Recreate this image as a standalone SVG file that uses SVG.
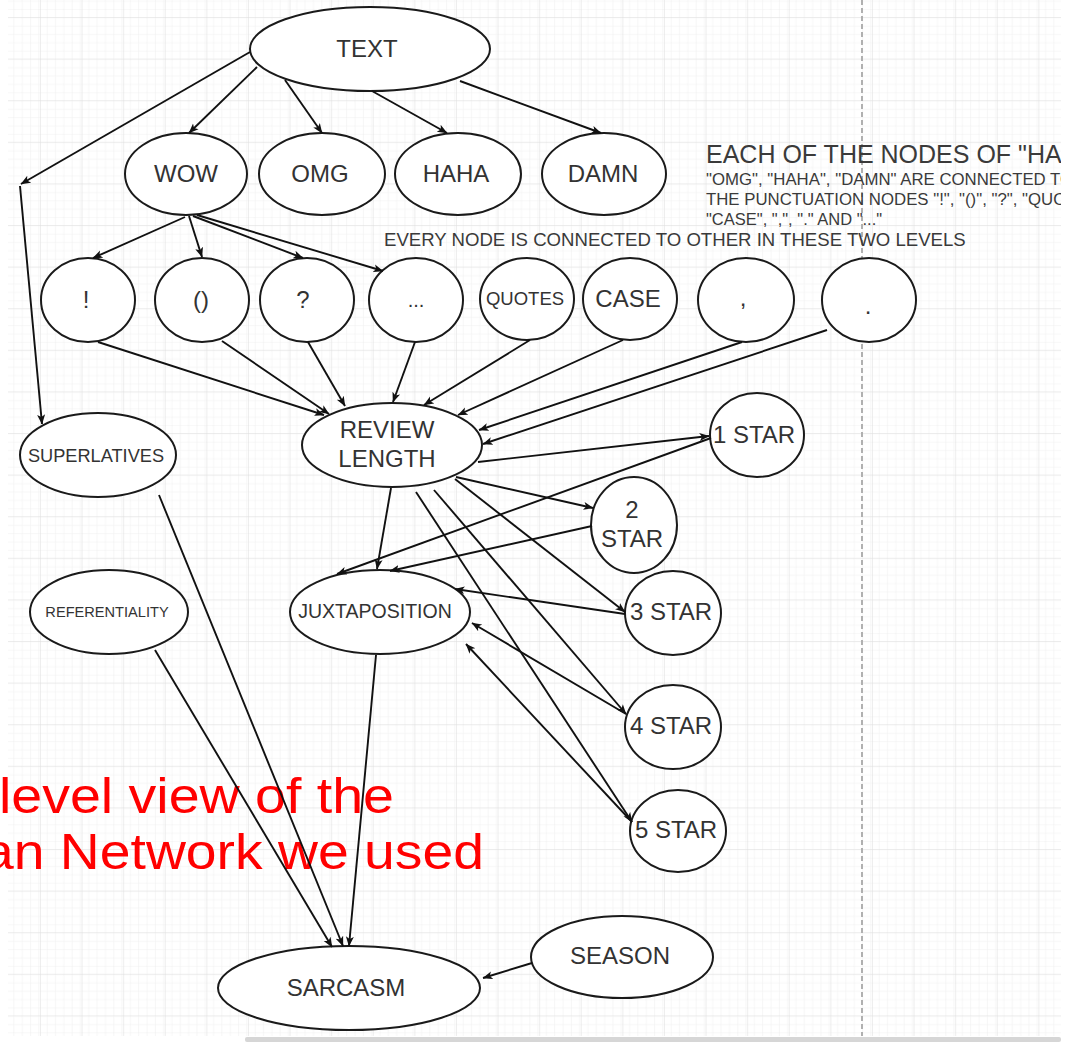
<svg xmlns="http://www.w3.org/2000/svg" width="1076" height="1042" viewBox="0 0 1076 1042">
<defs>
<pattern id="minor" width="8.32" height="8.32" patternUnits="userSpaceOnUse" x="40" y="17"><path d="M0 0 H8.32 M0 0 V8.32" fill="none" stroke="#efefef" stroke-width="1"/></pattern>
<pattern id="major" width="41.6" height="41.6" patternUnits="userSpaceOnUse" x="40" y="17"><rect width="41.6" height="41.6" fill="url(#minor)"/><path d="M0 0 H41.6 M0 0 V41.6" fill="none" stroke="#dedede" stroke-width="1"/></pattern>
<marker id="arr" viewBox="0 0 10 10" refX="9.5" refY="5" markerWidth="10" markerHeight="10" markerUnits="userSpaceOnUse" orient="auto"><path d="M0,1 L10,5 L0,9 L2.5,5 z" fill="#111"/></marker>
<clipPath id="page"><rect x="0" y="0" width="1061" height="1042"/></clipPath>
</defs>
<style>
.n ellipse{fill:#fff;stroke:#1a1a1a;stroke-width:2}
.n text{font-family:"Liberation Sans",Arial,sans-serif;fill:#333;text-anchor:middle;font-size:24px}
#edges path{fill:none;stroke:#111;stroke-width:1.9;marker-end:url(#arr)}
.note{font-family:"Liberation Sans",Arial,sans-serif;fill:#3a3a3a}
.red{font-family:"Liberation Sans",Arial,sans-serif;fill:#ff0000;font-size:50px}
</style>
<rect width="1076" height="1042" fill="#fff"/>
<g clip-path="url(#page)">
<rect x="8" y="0" width="1053" height="1036" fill="url(#major)"/>
<line x1="862" y1="0" x2="862" y2="1036" stroke="#b0b0b0" stroke-width="2" stroke-dasharray="5 3"/>
<g id="caption">
<text class="red" x="-1" y="813" textLength="395" lengthAdjust="spacingAndGlyphs">level view of the</text>
<text class="red" x="-17" y="869" textLength="501" lengthAdjust="spacingAndGlyphs">an Network we used</text>
</g>
<g id="notes">
<text class="note" x="706" y="163" font-size="25">EACH OF THE NODES OF "HA</text>
<text class="note" x="706" y="185" font-size="16.8">"OMG", "HAHA", "DAMN" ARE CONNECTED TO</text>
<text class="note" x="706" y="205" font-size="16.8">THE PUNCTUATION NODES "!", "()", "?", "QUO</text>
<text class="note" x="706" y="225" font-size="16.5">"CASE", ",", "." AND "..."</text>
<text class="note" x="384" y="246" font-size="18.6">EVERY NODE IS CONNECTED TO OTHER IN THESE TWO LEVELS</text>
</g>
<g id="n-text" class="n"><ellipse cx="370" cy="49" rx="120" ry="42"/><text x="367" y="57">TEXT</text></g>
<g id="n-wow" class="n"><ellipse cx="186" cy="174" rx="61" ry="41"/><text x="186" y="182">WOW</text></g>
<g id="n-omg" class="n"><ellipse cx="322" cy="174" rx="63" ry="41"/><text x="320" y="182">OMG</text></g>
<g id="n-haha" class="n"><ellipse cx="458" cy="174" rx="63" ry="41"/><text x="456" y="182">HAHA</text></g>
<g id="n-damn" class="n"><ellipse cx="604" cy="174" rx="62" ry="41"/><text x="603" y="182">DAMN</text></g>
<g id="n-excl" class="n"><ellipse cx="88" cy="300" rx="47" ry="42"/><text x="86" y="308">!</text></g>
<g id="n-paren" class="n"><ellipse cx="202" cy="300" rx="47" ry="42"/><text x="201" y="308">()</text></g>
<g id="n-q" class="n"><ellipse cx="307" cy="300" rx="47" ry="42"/><text x="303" y="308">?</text></g>
<g id="n-ellipsis" class="n"><ellipse cx="416" cy="300" rx="47" ry="42"/><text x="416" y="307" style="font-size:20px">...</text></g>
<g id="n-quotes" class="n"><ellipse cx="527" cy="299" rx="47" ry="41"/><text x="525" y="305" style="font-size:18.5px">QUOTES</text></g>
<g id="n-case" class="n"><ellipse cx="630" cy="299" rx="47" ry="41"/><text x="628" y="307">CASE</text></g>
<g id="n-comma" class="n"><ellipse cx="746" cy="300" rx="48" ry="42"/><text x="743" y="306">,</text></g>
<g id="n-period" class="n"><ellipse cx="869" cy="300" rx="47" ry="42"/><text x="868" y="314">.</text></g>
<g id="n-review" class="n"><ellipse cx="392" cy="445" rx="90" ry="42"/><text x="387" y="438">REVIEW</text><text x="387" y="467">LENGTH</text></g>
<g id="n-superl" class="n"><ellipse cx="98" cy="455" rx="78" ry="42"/><text x="96" y="462" style="font-size:18.2px">SUPERLATIVES</text></g>
<g id="n-ref" class="n"><ellipse cx="109" cy="612" rx="79" ry="42"/><text x="107" y="617" style="font-size:14.6px">REFERENTIALITY</text></g>
<g id="n-juxt" class="n"><ellipse cx="380" cy="612" rx="90" ry="42"/><text x="375" y="618" style="font-size:19.5px">JUXTAPOSITION</text></g>
<g id="n-1star" class="n"><ellipse cx="757" cy="435" rx="47" ry="42"/><text x="754" y="443">1 STAR</text></g>
<g id="n-2star" class="n"><ellipse cx="634" cy="525" rx="43" ry="48"/><text x="632" y="518">2</text><text x="632" y="547">STAR</text></g>
<g id="n-3star" class="n"><ellipse cx="673" cy="613" rx="48" ry="42"/><text x="671" y="620">3 STAR</text></g>
<g id="n-4star" class="n"><ellipse cx="673" cy="727" rx="48" ry="42"/><text x="671" y="734">4 STAR</text></g>
<g id="n-5star" class="n"><ellipse cx="678" cy="831" rx="48" ry="41"/><text x="676" y="838">5 STAR</text></g>
<g id="n-sarcasm" class="n"><ellipse cx="349" cy="988" rx="131" ry="42"/><text x="346" y="996">SARCASM</text></g>
<g id="n-season" class="n"><ellipse cx="622" cy="957" rx="91" ry="41"/><text x="620" y="964">SEASON</text></g>
<g id="edges">
<path d="M257 67 L189 133"/>
<path d="M285 80 L322 133"/>
<path d="M372 91 L447 133"/>
<path d="M460 81 L601 133"/>
<path d="M250 52 L21 184"/>
<path d="M20 186 L42 424"/>
<path d="M185 217 L93 258"/>
<path d="M189 216 L202 257"/>
<path d="M193 216 L303 258"/>
<path d="M197 215 L383 271"/>
<path d="M98 342 L324 415"/>
<path d="M222 341 L329 414"/>
<path d="M308 342 L345 406"/>
<path d="M415 342 L393 402"/>
<path d="M530 340 L424 405"/>
<path d="M623 340 L458 415"/>
<path d="M742 342 L479 430"/>
<path d="M827 330 L483 444"/>
<path d="M478 462 L709 436"/>
<path d="M456 477 L593 508"/>
<path d="M455 479 L625 612"/>
<path d="M434 490 L626 714"/>
<path d="M416 492 L632 822"/>
<path d="M391 488 L377 569"/>
<path d="M711 438 L337 574"/>
<path d="M592 526 L390 571"/>
<path d="M625 614 L455 589"/>
<path d="M626 714 L472 623"/>
<path d="M632 822 L466 644"/>
<path d="M159 495 L343 946"/>
<path d="M155 650 L332 947"/>
<path d="M376 655 L349 946"/>
<path d="M532 963 L483 978"/>
</g>
</g>
<rect x="245" y="1037" width="816" height="5" rx="2" fill="#d6d6d6"/>
</svg>
